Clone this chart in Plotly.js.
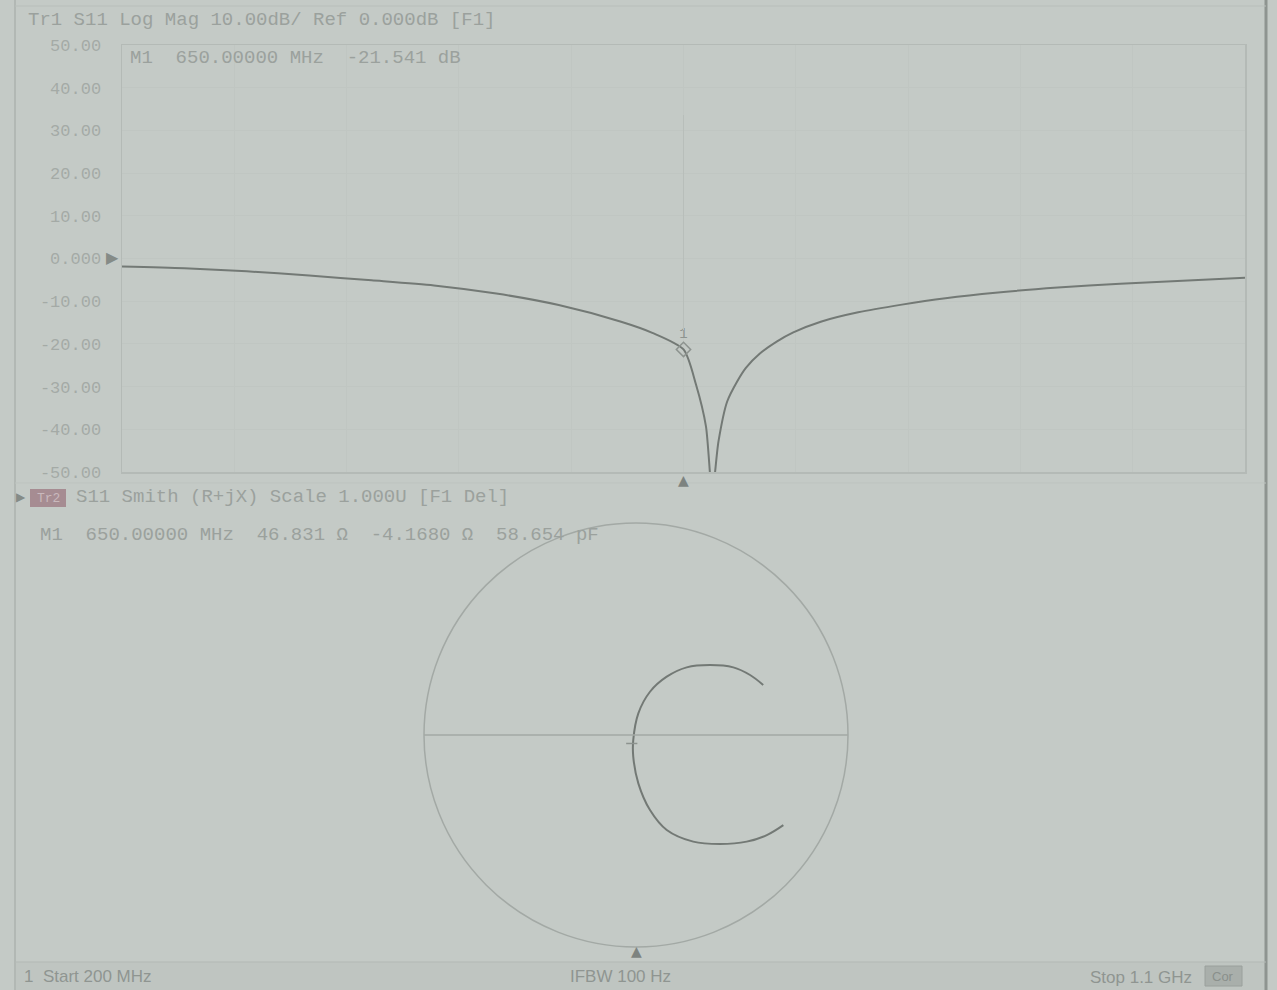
<!DOCTYPE html>
<html>
<head>
<meta charset="utf-8">
<script src="https://cdn.plot.ly/plotly-3.0.1.min.js"></script>
<style>
html,body{margin:0;padding:0;background:#c4cac6;}
#chart{width:1277px;height:990px;}
</style>
</head>
<body>
<div id="chart"></div>
<script>
// ---- Trace 1: S11 log magnitude (frequency in MHz, magnitude in dB) ----
const freqMHz = [200, 250, 300, 350, 400, 450, 500, 550, 600, 625, 650, 660, 668, 673, 678, 685, 693, 700, 711, 725, 738, 760, 790, 825, 860, 900, 950, 1000, 1050, 1100];
const s11dB   = [-1.9, -2.3, -3.0, -4.0, -5.1, -6.3, -8.2, -10.9, -14.8, -17.4, -21.3, -29.5, -39.3, -55, -42.9, -33.5, -28.8, -25.6, -22.3, -19.4, -17.3, -14.8, -12.6, -10.8, -9.3, -8.0, -6.8, -5.9, -5.2, -4.5];

// y-axis ticks
const yTickVals = [50, 40, 30, 20, 10, 0, -10, -20, -30, -40, -50];
const yTickText = ["50.00", "40.00", "30.00", "20.00", "10.00", "0.000", "-10.00", "-20.00", "-30.00", "-40.00", "-50.00"];
const xGridVals = [200, 290, 380, 470, 560, 650, 740, 830, 920, 1010, 1100];

// marker 1
const marker1Freq = [650];
const marker1dB = [-21.3];

// ---- Trace 2: S11 on Smith chart (reflection coefficient, real / imaginary) ----
const gammaRe = [0.695, 0.617, 0.522, 0.396, 0.270, 0.145, 0.066, 0.011, -0.013, -0.013, 0.011, 0.066, 0.145, 0.239, 0.349, 0.459, 0.538, 0.600];
const gammaIm = [-0.425, -0.472, -0.503, -0.514, -0.503, -0.448, -0.354, -0.228, -0.102, -0.024, 0.102, 0.204, 0.275, 0.319, 0.330, 0.319, 0.283, 0.236];
const smithMarkerRe = [-0.02];
const smithMarkerIm = [-0.04];

// text
const titleTop = "Tr1 S11 Log Mag 10.00dB/ Ref 0.000dB [F1]";
const markerTop = "M1  650.00000 MHz  -21.541 dB";
const titleSmith = "S11 Smith (R+jX) Scale 1.000U [F1 Del]";
const markerSmith = "M1  650.00000 MHz  46.831 Ω  -4.1680 Ω  58.654 pF";
const startText = "1  Start 200 MHz";
const ifbwText = "IFBW 100 Hz";
const stopText = "Stop 1.1 GHz";

const W = 1277, H = 990;
const px = v => v / W;
const py = v => 1 - v / H;

const BG = "#c4cac6";
const TXT = "#9ba19d";
const TRACE = "#737975";
const GRID = "#c0c6c2";
const FONT = "Liberation Mono, DejaVu Sans Mono, monospace";
const SANS = "Liberation Sans, Arial, sans-serif";

const traces = [
  {
    type: "scatter", mode: "lines", x: freqMHz, y: s11dB,
    xaxis: "x", yaxis: "y",
    line: {color: TRACE, width: 2, shape: "spline", smoothing: 0.7},
    hoverinfo: "skip", showlegend: false
  },
  {
    type: "scatter", mode: "markers+text", x: marker1Freq, y: marker1dB,
    xaxis: "x", yaxis: "y",
    marker: {symbol: "diamond-open", size: 11, color: "#8d938f", line: {width: 1.5}},
    text: ["1"], textposition: "top center",
    textfont: {family: FONT, size: 14, color: "#8d938f"},
    hoverinfo: "skip", showlegend: false
  },
  {
    type: "scatter", mode: "lines", x: gammaRe, y: gammaIm,
    xaxis: "x2", yaxis: "y2",
    line: {color: TRACE, width: 2, shape: "spline", smoothing: 1},
    hoverinfo: "skip", showlegend: false
  },
  {
    type: "scatter", mode: "markers", x: smithMarkerRe, y: smithMarkerIm,
    xaxis: "x2", yaxis: "y2",
    marker: {symbol: "line-ew", size: 8, color: "#8d938f", line: {width: 1.5, color: "#8d938f"}},
    hoverinfo: "skip", showlegend: false
  }
];

// Smith area: 212 px per unit, centred at (636, 735)
const R = 212;
const sx0 = 636 - 1.0472 * R, sx1 = 636 + 1.0472 * R;
const sy0 = 735 - 1.0472 * R, sy1 = 735 + 1.0472 * R;

const shapes = [
  // screen borders
  {type: "line", xref: "paper", yref: "paper", x0: px(15), x1: px(15), y0: 0, y1: 1, line: {color: "#b2b8b4", width: 2}},
  {type: "line", xref: "paper", yref: "paper", x0: px(1266), x1: px(1266), y0: 0, y1: 1, line: {color: "#8e9490", width: 3}},
  {type: "line", xref: "paper", yref: "paper", x0: px(15), x1: px(1266), y0: py(6), y1: py(6), line: {color: "#b8beba", width: 1}},
  // bottom status bar
  {type: "rect", xref: "paper", yref: "paper", x0: px(15), x1: px(1266), y0: 0, y1: py(962), fillcolor: "#bfc5c1", line: {width: 0}, layer: "below"},
  {type: "line", xref: "paper", yref: "paper", x0: px(15), x1: px(1266), y0: py(962), y1: py(962), line: {color: "#b3b9b5", width: 1}},
  // panel separator
  {type: "line", xref: "paper", yref: "paper", x0: px(15), x1: px(1266), y0: py(483), y1: py(483), line: {color: "#bdc3bf", width: 1}},
  // tr2 label box
  {type: "rect", xref: "paper", yref: "paper", x0: px(30), x1: px(66), y0: py(507), y1: py(489), fillcolor: "#a68c92", line: {width: 0}},
  // status-bar box at right
  {type: "rect", xref: "paper", yref: "paper", x0: px(1205), x1: px(1242), y0: py(986), y1: py(966), fillcolor: "#a9afab", line: {color: "#9aa09c", width: 1}},
  // marker line on top panel
  {type: "line", xref: "x", yref: "paper", x0: 650, x1: 650, y0: py(330), y1: py(115), line: {color: "#b8beba", width: 1}},
  // Smith chart frame
  {type: "circle", xref: "x2", yref: "y2", x0: -1, x1: 1, y0: -1, y1: 1, line: {color: "#a3a9a5", width: 1.5}},
  {type: "line", xref: "x2", yref: "y2", x0: -1, x1: 1, y0: 0, y1: 0, line: {color: "#a3a9a5", width: 1.5}}
];

const ann = (text, x, y, opts) => Object.assign({
  text: text, xref: "paper", yref: "paper", x: px(x), y: py(y),
  xanchor: "left", yanchor: "middle", showarrow: false,
  font: {family: FONT, size: 19, color: TXT}
}, opts || {});

const annotations = [
  ann(titleTop, 26, 20),
  ann(markerTop, 128, 58),
  ann("▶", 104, 257, {font: {family: "DejaVu Sans", size: 16, color: "#858b87"}}),
  ann("▶", 14, 497, {font: {family: "DejaVu Sans", size: 12, color: "#858b87"}}),
  ann("Tr2", 48, 498, {xanchor: "center", font: {family: FONT, size: 13, color: "#c9b9bd"}}),
  ann(titleSmith, 74, 497),
  ann(markerSmith, 38, 535),
  {text: "▲", xref: "x", yref: "paper", x: 650, y: py(480), xanchor: "center", yanchor: "middle", showarrow: false, font: {family: "DejaVu Sans", size: 14, color: "#7d8380"}},
  ann("▲", 636, 951, {xanchor: "center", font: {family: "DejaVu Sans", size: 14, color: "#7d8380"}}),
  ann(startText, 22, 976, {font: {family: SANS, size: 17, color: "#8f9591"}}),
  ann(ifbwText, 620, 976, {xanchor: "center", font: {family: SANS, size: 17, color: "#8f9591"}}),
  ann(stopText, 1088, 977, {font: {family: SANS, size: 17, color: "#8f9591"}}),
  ann("Cor", 1223, 976, {xanchor: "center", font: {family: SANS, size: 13, color: "#8a908c"}})
];

const layout = {
  width: W, height: H,
  margin: {l: 0, r: 0, t: 0, b: 0},
  paper_bgcolor: BG, plot_bgcolor: "rgba(0,0,0,0)",
  showlegend: false,
  xaxis: {
    domain: [px(122), px(1245)], range: [200, 1100],
    tickvals: xGridVals, showticklabels: false, ticks: "",
    showgrid: true, gridcolor: GRID, gridwidth: 1,
    zeroline: false, showline: true, mirror: true, linecolor: "#b4bab6", linewidth: 1.5,
    anchor: "y", fixedrange: true
  },
  yaxis: {
    domain: [py(472), py(45)], range: [-50, 50],
    tickvals: yTickVals, ticktext: yTickText, ticks: "",
    tickfont: {family: FONT, size: 17, color: "#a4aaa6"},
    ticklabelstandoff: 16,
    showgrid: true, gridcolor: GRID, gridwidth: 1,
    zeroline: false, showline: true, mirror: true, linecolor: "#b4bab6", linewidth: 1.5,
    anchor: "x", fixedrange: true
  },
  xaxis2: {
    domain: [px(sx0), px(sx1)], range: [-1.0472, 1.0472],
    visible: false, showgrid: false, zeroline: false, anchor: "y2", fixedrange: true
  },
  yaxis2: {
    domain: [py(sy1), py(sy0)], range: [-1.0472, 1.0472],
    visible: false, showgrid: false, zeroline: false, anchor: "x2", fixedrange: true
  },
  shapes: shapes,
  annotations: annotations
};

Plotly.newPlot("chart", traces, layout, {displayModeBar: false, staticPlot: true});
</script>
</body>
</html>
